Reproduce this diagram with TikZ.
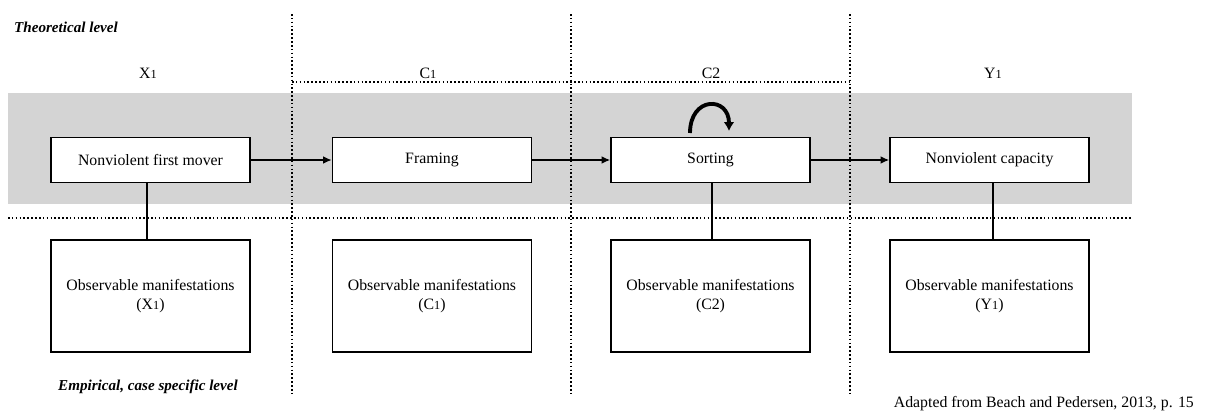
\documentclass[tikz,border=0pt]{standalone}
\usepackage{fontspec}
\setmainfont{Liberation Serif}
\usepackage{tikz}
\usetikzlibrary{arrows.meta,calc}
\definecolor{bandgray}{RGB}{212,212,212}

\begin{document}
\begin{tikzpicture}[x=0.02cm,y=-0.02cm,font=\fontsize{9}{11}\selectfont]
            \tikzstyle{mech}=[draw, fill=white, line width=0.8pt, minimum width=3.98cm, minimum height=0.9cm, inner sep=1pt]
            \tikzstyle{obs}=[draw, fill=white, line width=0.8pt, minimum width=3.98cm, minimum height=2.24cm, align=center, inner sep=1pt]
            \tikzstyle{sep}=[line width=0.7pt, dash pattern=on 0.9pt off 1.3pt]
            \tikzstyle{link}=[line width=1.2pt]
            \tikzstyle{level}=[font=\fontsize{8.6}{10}\selectfont\bfseries\itshape]
            \useasboundingbox (0,0) rectangle (1207,416);
            \fill[bandgray] (8,93) rectangle (1132,204);
            \draw[sep] (292,14) -- (292,396);
            \draw[sep] (571,14) -- (571,396);
            \draw[sep] (850,14) -- (850,396);
            \draw[sep] (292,82) -- (850,82);
            \draw[sep] (8,218) -- (1132,218);
            \node[level, anchor=west] (theo) at (8,27) {Theoretical level};
            \node[level, anchor=west] (emp) at (52,387) {Empirical, case specific level};
            \node[anchor=east] (src) at (1200,404) {Adapted from Beach and Pedersen, 2013, p. 15};
            \node (lx) at (148,73) {X{\scriptsize 1}};
            \node (lc1) at (428,73) {C{\scriptsize 1}};
            \node (lc2) at (711,73) {C2};
            \node (ly) at (993,73) {Y{\scriptsize 1}};
            \node[mech] (X) at (150.5,160) {Nonviolent first mover};
            \node[mech] (C1) at (432,160) {Framing};
            \node[mech] (C2) at (710.5,160) {Sorting};
            \node[mech] (Y) at (989.5,160) {Nonviolent capacity};
            \node[obs] (oX) at (150.5,296) {Observable manifestations\\(X{\scriptsize 1})};
            \node[obs] (oC1) at (432,296) {Observable manifestations\\(C{\scriptsize 1})};
            \node[obs] (oC2) at (710.5,296) {Observable manifestations\\(C2)};
            \node[obs] (oY) at (989.5,296) {Observable manifestations\\(Y{\scriptsize 1})};
            \path [link, -{Latex[length=5pt,width=4.5pt]}] (X) edge[] (C1);
            \path [link, -{Latex[length=5pt,width=4.5pt]}] (C1) edge[] (C2);
            \path [link, -{Latex[length=5pt,width=4.5pt]}] (C2) edge[] (Y);
            \path [link] (X.south -| 147,0) edge[] (oX.north -| 147,0);
            \path [link] (C2.south -| 712,0) edge[] (oC2.north -| 712,0);
            \path [link] (Y.south -| 993,0) edge[] (oY.north -| 993,0);
            % loop on sorting
            \coordinate (loopa) at (690,133);
            \coordinate (loopb) at (729,131);
            \draw[line width=2.2pt, -{Latex[length=5pt,width=6pt]}] (loopa) .. controls (690,96) and (729,96) .. (loopb);
        \end{tikzpicture}
\end{document}
